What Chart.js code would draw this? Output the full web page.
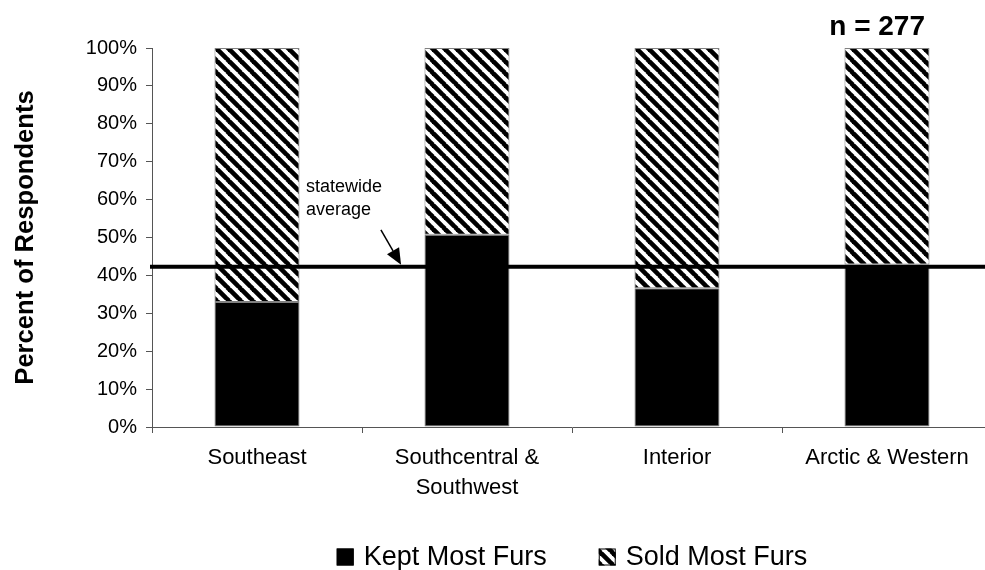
<!DOCTYPE html>
<html>
<head>
<meta charset="utf-8">
<script src="https://cdn.jsdelivr.net/npm/chart.js@4/dist/chart.umd.min.js"></script>
<style>
  html, body { margin: 0; padding: 0; background: #fff; overflow: hidden; }
  #wrap { width: 1000px; height: 570px; }
</style>
</head>
<body>
<div id="wrap"><canvas id="chart" width="1000" height="570"></canvas></div>
<script>
// Fur use by region (percent of respondents)
const regions = ['Southeast', ['Southcentral &', 'Southwest'], 'Interior', 'Arctic & Western'];
const keptMostFurs = [33.0, 50.7, 36.6, 42.9];
const soldMostFurs = [67.0, 49.3, 63.4, 57.1];
const statewideAverage = 42.3;
const sampleSize = 277;
const seriesNames = ['Kept Most Furs', 'Sold Most Furs'];

const FONT = '"Liberation Sans", Arial, sans-serif';

// Diagonal "\" hatch fill
function makeHatch() {
  const s = 12;
  const c = document.createElement('canvas');
  c.width = s; c.height = s;
  const g = c.getContext('2d');
  g.fillStyle = '#fff';
  g.fillRect(0, 0, s, s);
  g.strokeStyle = '#000';
  g.lineWidth = 4.6;
  for (let k = -1; k <= 1; k++) {
    g.beginPath();
    g.moveTo(k * s - 1, -1);
    g.lineTo(k * s + s + 1, s + 1);
    g.stroke();
  }
  return g.createPattern(c, 'repeat');
}
const hatch = makeHatch();

// Statewide average line, its note, the sample size and the legend
const overlay = {
  id: 'overlay',
  afterDatasetsDraw(chart) {
    const { ctx, chartArea, scales: { x, y } } = chart;
    ctx.save();

    // statewide average line
    const yAvg = y.getPixelForValue(statewideAverage);
    ctx.strokeStyle = '#000';
    ctx.lineWidth = 4;
    ctx.beginPath();
    ctx.moveTo(chartArea.left - 2, yAvg);
    ctx.lineTo(chartArea.right, yAvg);
    ctx.stroke();

    // arrow to the line
    const tx = x.getPixelForValue(0.686), ty = yAvg - 2;
    const sx = x.getPixelForValue(0.59), sy = y.getPixelForValue(52);
    const ang = Math.atan2(ty - sy, tx - sx);
    const L = 16, W = 7;
    const bx = tx - L * Math.cos(ang), by = ty - L * Math.sin(ang);
    ctx.lineWidth = 1.5;
    ctx.beginPath();
    ctx.moveTo(sx, sy);
    ctx.lineTo(bx, by);
    ctx.stroke();
    ctx.fillStyle = '#000';
    ctx.beginPath();
    ctx.moveTo(tx, ty);
    ctx.lineTo(bx + W * Math.sin(ang), by - W * Math.cos(ang));
    ctx.lineTo(bx - W * Math.sin(ang), by + W * Math.cos(ang));
    ctx.closePath();
    ctx.fill();

    ctx.font = '18px ' + FONT;
    ctx.textAlign = 'left';
    ctx.textBaseline = 'alphabetic';
    ctx.fillText('statewide', x.getPixelForValue(0.233), y.getPixelForValue(62.0));
    ctx.fillText('average', x.getPixelForValue(0.233), y.getPixelForValue(55.9));

    // sample size
    ctx.font = 'bold 28px ' + FONT;
    ctx.textAlign = 'right';
    ctx.fillText('n = ' + sampleSize, x.getPixelForValue(3) + 38, chartArea.top - 13);

    // legend
    const ds = chart.data.datasets;
    const box = 17, gap = 10, spacing = 52;
    ctx.font = '27px ' + FONT;
    const widths = ds.map(d => ctx.measureText(d.label).width);
    const total = widths.reduce((a, w) => a + box + gap + w, 0) + spacing * (ds.length - 1);
    let lx = (chartArea.left + chartArea.right) / 2 - total / 2;
    const ly = 557;
    ctx.textAlign = 'left';
    ctx.textBaseline = 'middle';
    ds.forEach((d, i) => {
      ctx.fillStyle = d.backgroundColor;
      ctx.fillRect(lx, ly - box / 2, box, box);
      ctx.strokeStyle = '#000';
      ctx.lineWidth = 1;
      ctx.strokeRect(lx + 0.5, ly - box / 2 + 0.5, box - 1, box - 1);
      ctx.fillStyle = '#000';
      ctx.fillText(d.label, lx + box + gap, ly + 1);
      lx += box + gap + widths[i] + spacing;
    });
    ctx.restore();
  }
};

new Chart(document.getElementById('chart'), {
  type: 'bar',
  data: {
    labels: regions,
    datasets: [
      {
        label: seriesNames[0],
        data: keptMostFurs,
        backgroundColor: '#000',
        borderColor: '#808080',
        borderWidth: 1,
        borderSkipped: false
      },
      {
        label: seriesNames[1],
        data: soldMostFurs,
        backgroundColor: hatch,
        borderColor: '#808080',
        borderWidth: 1,
        borderSkipped: false
      }
    ]
  },
  options: {
    responsive: false,
    devicePixelRatio: 1,
    animation: false,
    layout: { padding: { top: 48, right: 8, bottom: 43, left: 0 } },
    datasets: { bar: { categoryPercentage: 1, barPercentage: 0.405 } },
    plugins: {
      legend: { display: false },
      tooltip: { enabled: false }
    },
    scales: {
      x: {
        stacked: true,
        grid: { offset: true, drawOnChartArea: false, tickLength: 6, color: '#555' },
        border: { color: '#555', width: 1 },
        ticks: { color: '#000', padding: 10, font: { family: FONT, size: 22, lineHeight: 1.36 }, maxRotation: 0 },
        afterFit(s) { s.height = 100; }
      },
      y: {
        stacked: true,
        min: 0,
        max: 100,
        grid: { drawOnChartArea: false, tickLength: 6, color: '#555' },
        border: { color: '#555', width: 1 },
        ticks: { stepSize: 10, color: '#000', padding: 9, font: { family: FONT, size: 20 }, callback: v => v + '%' },
        title: { display: true, text: 'Percent of Respondents', color: '#000', padding: { top: 11, bottom: 0 }, font: { family: FONT, size: 25.6, weight: 'bold' } },
        afterFit(s) { s.width = 152; }
      }
    }
  },
  plugins: [overlay]
});
</script>
</body>
</html>
